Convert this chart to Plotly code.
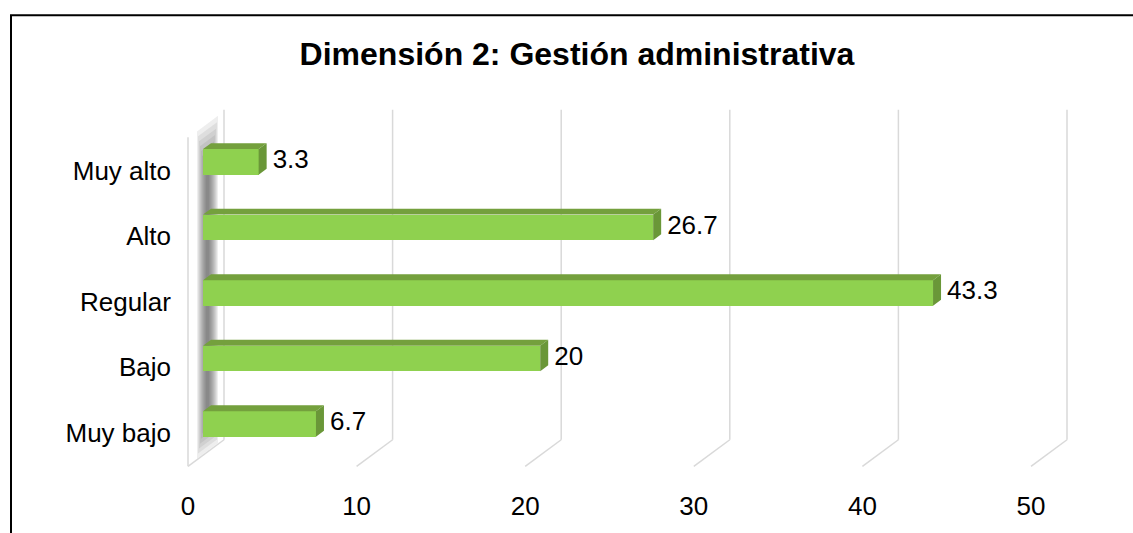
import plotly.graph_objects as go

# ---------------- data ----------------
categories = ["Muy bajo", "Bajo", "Regular", "Alto", "Muy alto"]
values = [6.7, 20, 43.3, 26.7, 3.3]
value_labels = ["6.7", "20", "43.3", "26.7", "3.3"]
x_ticks = [0, 10, 20, 30, 40, 50]
x_tick_text = ["0", "10", "20", "30", "40", "50"]
title_text = "Dimensión 2: Gestión administrativa"

# ---------------- geometry (pixel model of the 3D look, screen pixels) ----------------
W, H = 1133, 533
plot_l, plot_r, plot_t, plot_b = 172, 1110, 90, 494
ML, MT = plot_l, plot_t
MR, MB = W - plot_r, H - plot_b

PX0, PXU = 203.0, 16.86      # x pixel of value 0 (bar front face) and px per unit
PY0, PYU = 429.0, 66.5       # y pixel of first category and px per category


def ux(px):
    return px / PXU


def uy(py):
    return py / PYU


def xd(px):
    return (px - PX0) / PXU


def yd(py):
    return (PY0 - py) / PYU


x_range = [xd(plot_l), xd(plot_r)]
y_range = [yd(plot_b), yd(plot_t)]

ypos = list(range(len(categories)))
bar_w = uy(26)
depth_dx, depth_dy = ux(8), uy(6)
back_off = ux(21)
front_off = ux(-15)

GREEN = "#8FD14F"
TOP = "#74A03D"
SIDE = "#6A9738"
GRID = "#D9D9D9"
FONT = "Liberation Sans, Arial, sans-serif"

fig = go.Figure()

fig.add_trace(go.Bar(
    x=values, y=ypos, orientation="h", width=bar_w,
    marker=dict(color=GREEN, line=dict(width=0)),
    hoverinfo="skip", showlegend=False,
))

tx, ty, sx, sy = [], [], [], []
for v, y in zip(values, ypos):
    yt = y + bar_w / 2
    yb = y - bar_w / 2
    tx += [0, v, v + depth_dx, depth_dx, 0, None]
    ty += [yt, yt, yt + depth_dy, yt + depth_dy, yt, None]
    sx += [v, v + depth_dx, v + depth_dx, v, v, None]
    sy += [yb, yb + depth_dy, yt + depth_dy, yt, yb, None]

fig.add_trace(go.Scatter(x=tx, y=ty, mode="lines", fill="toself",
                         fillcolor=TOP, line=dict(width=0, color=TOP),
                         hoverinfo="skip", showlegend=False))
fig.add_trace(go.Scatter(x=sx, y=sy, mode="lines", fill="toself",
                         fillcolor=SIDE, line=dict(width=0, color=SIDE),
                         hoverinfo="skip", showlegend=False))

fig.add_trace(go.Scatter(
    x=[v + ux(14) for v in values], y=ypos, mode="text",
    text=value_labels, textposition="middle right",
    textfont=dict(family=FONT, size=26, color="#000000"),
    hoverinfo="skip", showlegend=False, cliponaxis=False,
))

shapes = []
y_back_top, y_back_bot, y_front = yd(110), yd(445), yd(472)
for v in x_ticks:
    shapes.append(dict(type="line", xref="x", yref="y", layer="below",
                       x0=v + back_off, x1=v + back_off, y0=y_back_top, y1=y_back_bot,
                       line=dict(color=GRID, width=1.5)))
    shapes.append(dict(type="line", xref="x", yref="y", layer="below",
                       x0=v + back_off, x1=v + front_off, y0=y_back_bot, y1=y_front,
                       line=dict(color=GRID, width=1.5)))
shapes.append(dict(type="line", xref="x", yref="y", layer="below",
                   x0=front_off, x1=front_off, y0=yd(138), y1=y_front,
                   line=dict(color=GRID, width=1.5)))

# wall shadow (soft dark band)
n = 10
for k in range(n):
    xl = 197 + k * 1.0
    xr = 218 - k * 1.0
    slope = 0.75
    top_l = 132 + k * 5
    bot_l = 464 - k * 5
    top_r = top_l - slope * (xr - xl)
    bot_r = bot_l - slope * (xr - xl)
    path = (f"M {xd(xl)},{yd(top_l)} L {xd(xr)},{yd(top_r)} "
            f"L {xd(xr)},{yd(bot_r)} L {xd(xl)},{yd(bot_l)} Z")
    shapes.append(dict(type="path", xref="x", yref="y", layer="below", path=path,
                       fillcolor="#404040", opacity=0.09, line=dict(width=0)))


def pxp(px):
    return (px - plot_l) / (plot_r - plot_l)


def pyp(py):
    return (plot_b - py) / (plot_b - plot_t)


shapes.append(dict(type="rect", xref="paper", yref="paper",
                   x0=pxp(11), x1=pxp(1160), y0=pyp(14), y1=pyp(560),
                   line=dict(color="#000000", width=2), fillcolor="rgba(0,0,0,0)"))

fig.update_layout(
    width=W, height=H,
    margin=dict(l=ML, r=MR, t=MT, b=MB, pad=0),
    paper_bgcolor="white", plot_bgcolor="white",
    shapes=shapes,
    showlegend=False,
    font=dict(family=FONT, size=26, color="#000000"),
    title=dict(text="<b>" + title_text + "</b>",
               font=dict(family=FONT, size=32, color="#000000"),
               x=pxp(577), xref="paper", xanchor="center",
               y=1 - 54 / H, yref="container", yanchor="middle"),
    xaxis=dict(range=x_range, showgrid=False, zeroline=False, showline=False,
               tickvals=[v + front_off for v in x_ticks], ticktext=x_tick_text,
               ticks="", tickfont=dict(size=26), fixedrange=True),
    yaxis=dict(range=y_range, showgrid=False, zeroline=False, showline=False,
               tickvals=[y - uy(9) for y in ypos], ticktext=categories,
               ticks="", tickfont=dict(size=26), fixedrange=True),
    bargap=0,
)

fig.write_html(
    "out.html",
    config={"displayModeBar": False},
    post_script="document.body.style.margin='0';document.body.style.overflow='hidden';",
)
